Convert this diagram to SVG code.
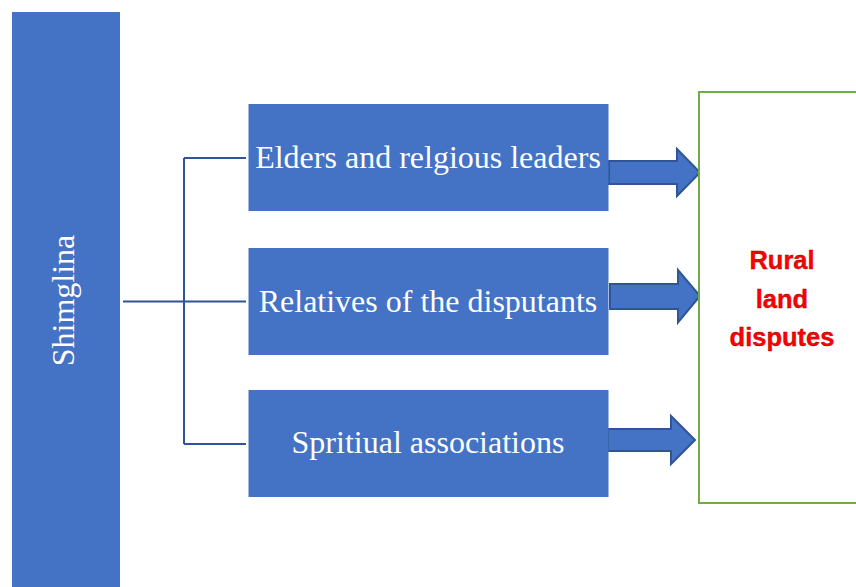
<svg xmlns="http://www.w3.org/2000/svg" width="856" height="587" viewBox="0 0 856 587">
  <style>
    .blk { fill: #4472c4; }
    .lbl { font-family: "Liberation Serif", "Times New Roman", serif; font-size: 32px; fill: #ffffff; text-anchor: middle; }
    .wire { fill: none; stroke: #2f5597; stroke-width: 2; }
    .arw { fill: #4472c4; stroke: #2f5597; stroke-width: 2; stroke-linejoin: miter; }
    .goal { font-family: "Liberation Sans", Arial, sans-serif; font-weight: bold; font-size: 25.5px; fill: #ff0000; stroke: #a00000; stroke-width: 0.35; text-anchor: middle; }
  </style>
  <rect width="856" height="587" fill="#ffffff"/>

  <!-- root mechanism -->
  <g id="shimglina">
    <rect class="blk" x="12" y="12" width="108" height="580"/>
    <text class="lbl" transform="translate(74,300.5) rotate(-90)" x="0" y="0">Shimglina</text>
  </g>

  <!-- branches from the root to the three actors -->
  <g id="connectors">
    <path class="wire" d="M184,158 V444"/>
    <path class="wire" d="M184,158 H246"/>
    <path class="wire" d="M123,301.5 H246"/>
    <path class="wire" d="M184,444 H246"/>
    <polygon class="arw" points="609,161 677,161 677,149 700,172.5 677,196 677,184 609,184"/>
    <polygon class="arw" points="610,284 678,284 678,270 700,296 678,322.5 678,309 610,309"/>
    <polygon class="arw" points="608,429 671,429 671,416 695,440 671,464 671,451 608,451"/>
  </g>

  <g id="elders">
    <rect class="blk" x="248.5" y="104" width="360" height="107"/>
    <text class="lbl" x="428" y="168">Elders and relgious leaders</text>
  </g>

  <g id="relatives">
    <rect class="blk" x="248.5" y="248" width="360" height="107"/>
    <text class="lbl" x="428" y="311.5">Relatives of the disputants</text>
  </g>

  <g id="spiritual">
    <rect class="blk" x="248.5" y="390" width="360" height="107"/>
    <text class="lbl" x="428" y="453">Spritiual associations</text>
  </g>

  <g id="disputes">
    <rect x="699" y="92" width="180" height="411" fill="#ffffff" stroke="#70ad47" stroke-width="2"/>
    <text class="goal" x="782" y="269">Rural</text>
    <text class="goal" x="782" y="307.5">land</text>
    <text class="goal" x="782" y="346">disputes</text>
  </g>
</svg>
